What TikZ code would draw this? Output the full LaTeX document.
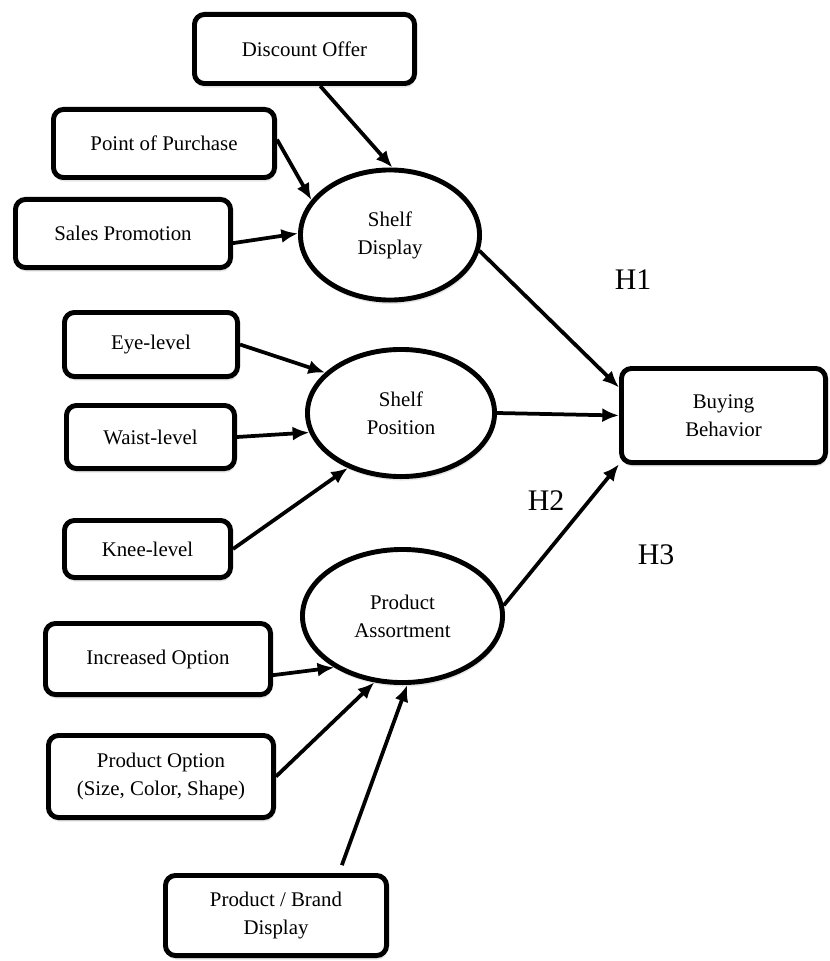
\documentclass[tikz,border=0pt]{standalone}
\usepackage{fontspec}
\setmainfont{Liberation Serif}
\usetikzlibrary{arrows.meta,shapes.geometric,shadows}

\begin{document}
\begin{tikzpicture}[x=0.03cm,y=-0.03cm,
		every node/.style={font=\fontsize{17.8}{23.8}\selectfont,align=center},
		box/.style 2 args={draw,line width=4.2pt,rounded corners=0.3cm,fill=white,inner sep=0pt,
			minimum width=#1*0.03cm-4.2pt,minimum height=#2*0.03cm-4.2pt,
			drop shadow={shadow xshift=0.03cm,shadow yshift=-0.12cm,opacity=0.2}},
		oval/.style 2 args={ellipse,draw,line width=4.2pt,fill=white,inner sep=0pt,
			minimum width=#1*0.03cm-4.2pt,minimum height=#2*0.03cm-4.2pt,
			drop shadow={shadow xshift=0.03cm,shadow yshift=-0.12cm,opacity=0.2}},
		arr/.style={-{Latex[length=0.5cm,width=0.42cm]},line width=3.2pt},
		hyp/.style={font=\fontsize{25.5}{30}\selectfont}]
			\useasboundingbox (0,0) rectangle (829,961);
			% constructs
			\node[oval={184}{135}] (sd) at (390,235) {Shelf\\Display};
			\node[oval={192}{132}] (sp) at (401,413) {Shelf\\Position};
			\node[oval={205}{138}] (pa) at (402.5,616) {Product\\Assortment};
			\node[box={209}{99}] (bb) at (723.5,415.5) {Buying\\Behavior};
			% indicators
			\node[box={225}{74}] (disc) at (304.5,49) {Discount Offer};
			\node[box={226}{73}] (pop) at (164,143.5) {Point of Purchase};
			\node[box={220}{73}] (sales) at (123,233.5) {Sales Promotion};
			\node[box={178}{69}] (eye) at (151,344.5) {Eye-level};
			\node[box={173}{68}] (waist) at (150.5,437) {Waist-level};
			\node[box={171}{62}] (knee) at (147.5,549) {Knee-level};
			\node[box={230}{76}] (incopt) at (158,659) {Increased Option};
			\node[box={230}{87}] (prodopt) at (161,776.5) {Product Option\\(Size, Color, Shape)};
			\node[box={226}{85}] (brand) at (276,915.5) {Product / Brand\\Display};
			% hypotheses
			\node[hyp] (h1) at (633,280) {H1};
			\node[hyp] (h2) at (546,501) {H2};
			\node[hyp] (h3) at (656,555) {H3};
			% arrows
			\draw[arr] (disc.-67) -- (sd.88);
			\draw[arr] (pop.2) -- (sd.156);
			\draw[arr] (sales.-5) -- (sd.179);
			\draw[arr] (eye.east) -- (sp.152);
			\draw[arr] (waist.east) -- (sp.192);
			\draw[arr] (knee.east) -- (sp.226);
			\draw[arr] (incopt.-8) -- (pa.217);
			\draw[arr] (prodopt.east) -- (pa.247);
			\draw[arr,shorten <=0.25cm] (brand.34) -- (pa.274);
			\draw[arr] (sd.-10) -- (bb.165);
			\draw[arr] (sp.east) -- (bb.west);
			\draw[arr] (pa.6) -- (bb.205);
		\end{tikzpicture}
\end{document}
